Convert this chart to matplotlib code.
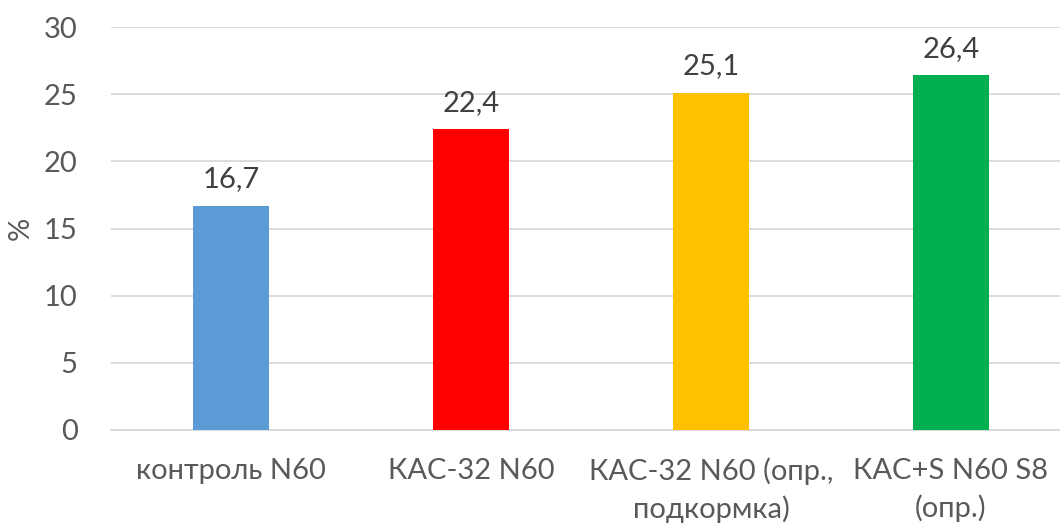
import matplotlib
matplotlib.use("Agg")
import matplotlib.pyplot as plt

categories = ["контроль N60", "КАС-32 N60", "КАС-32 N60 (опр.,\nподкормка)", "КАС+S N60 S8\n(опр.)"]
values = [16.7, 22.4, 25.1, 26.4]
colors = ["#5B9BD5", "#FF0000", "#FFC000", "#00B050"]
yticks = [0, 5, 10, 15, 20, 25, 30]

plt.rcParams["font.family"] = ["Lato", "DejaVu Sans"]

fig = plt.figure(figsize=(10.6, 5.24), dpi=100)
ax = fig.add_axes([111 / 1060, 1 - 430 / 524, 960 / 1060, 403 / 524])

x = list(range(len(values)))
bars = ax.bar(x, values, width=0.317, color=colors, zorder=3)
for xi, v in zip(x, values):
    ax.text(xi, v + 1.0, f"{v:.1f}".replace(".", ","), ha="center", va="bottom",
            fontsize=21, color="#404040")

ax.set_xlim(-0.5, len(values) - 0.5)
ax.set_ylim(0, 30)
ax.set_yticks(yticks)
ax.set_yticklabels([str(t) for t in yticks], fontsize=21, color="#595959")
ax.set_xticks(x)
ax.set_xticklabels(categories, fontsize=21, color="#595959", linespacing=1.45)
ax.tick_params(axis="both", length=0)
ax.tick_params(axis="x", pad=20)
ax.tick_params(axis="y", pad=24)
ax.grid(axis="y", color="#D9D9D9", linewidth=1.3, zorder=0)
for s in ["top", "right", "left"]:
    ax.spines[s].set_visible(False)
ax.spines["bottom"].set_color("#D9D9D9")
ax.spines["bottom"].set_linewidth(1.3)
ax.set_ylabel("%", fontsize=21, color="#595959", va="center")
ax.yaxis.set_label_coords(-0.094, 0.5)

fig.savefig("out.png", dpi=100)
